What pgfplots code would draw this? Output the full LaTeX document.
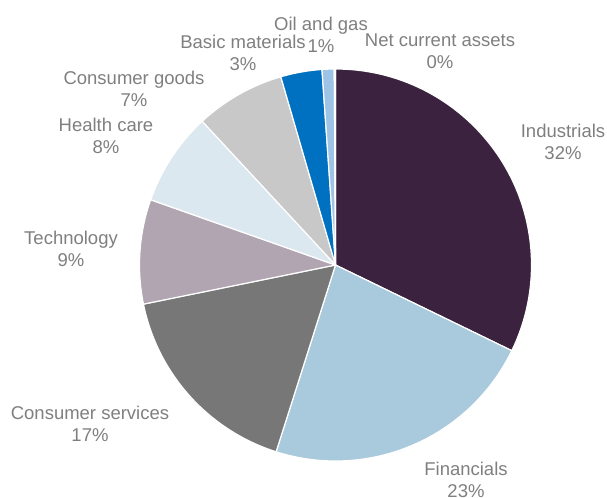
\documentclass[border=0pt]{standalone}
\usepackage{fontspec}
\setmainfont{Liberation Sans}
\usepackage{pgfplots}
\usepackage{pgfplotstable}
\pgfplotsset{compat=1.18}

\definecolor{cInd}{HTML}{3B2340}
\definecolor{cFin}{HTML}{A9CADC}
\definecolor{cCS}{HTML}{777777}
\definecolor{cTech}{HTML}{B0A5B0}
\definecolor{cHC}{HTML}{DCE8F0}
\definecolor{cCG}{HTML}{C8C8C8}
\definecolor{cBM}{HTML}{0070C0}
\definecolor{cOG}{HTML}{9DC3E6}
\definecolor{cNCA}{HTML}{DDEBF7}
\definecolor{labelgray}{HTML}{7F7F7F}

\tikzset{lbl/.style={font=\fontsize{18.5bp}{22bp}\selectfont, text=labelgray, align=center, inner sep=0pt}}

% sector weights (%), clockwise from 12 o'clock
\pgfplotstableread[col sep=comma]{
sector,value,colour
Industrials,32.2,cInd
Financials,22.7,cFin
Consumer services,16.9,cCS
Technology,8.6,cTech
Health care,7.7,cHC
Consumer goods,7.4,cCG
Basic materials,3.4,cBM
Oil and gas,1.0,cOG
Net current assets,0.1,cNCA
}\piedata

\begin{document}
\begin{tikzpicture}
\begin{axis}[
    width=607bp, height=498bp,
    scale only axis,
    xmin=0, xmax=607, ymin=0, ymax=498,
    axis line style={draw=none},
    xtick=\empty, ytick=\empty,
    clip=false,
]
\pgfmathsetmacro{\cum}{90}
\pgfplotsforeachungrouped \i in {0,...,8}{
  \pgfplotstablegetelem{\i}{value}\of{\piedata}
  \pgfmathsetmacro{\wedge}{\pgfplotsretval*3.6}
  \pgfmathsetmacro{\nxt}{\cum-\wedge}
  \pgfplotstablegetelem{\i}{colour}\of{\piedata}
  \edef\cmd{\noexpand\fill[fill=\pgfplotsretval, draw=white, line width=1.2bp, line join=round]
    (axis cs:335.5,233) -- ++(\cum:196bp)
    arc[start angle=\cum, end angle=\nxt, radius=196bp] -- cycle;}
  \cmd
  \global\let\cum\nxt
}
\node[lbl] at (axis cs:563,356) {Industrials\\32\%};
\node[lbl] at (axis cs:466,18.5) {Financials\\23\%};
\node[lbl] at (axis cs:90,74) {Consumer services\\17\%};
\node[lbl] at (axis cs:71,249) {Technology\\9\%};
\node[lbl] at (axis cs:106,362) {Health care\\8\%};
\node[lbl] at (axis cs:134,409) {Consumer goods\\7\%};
\node[lbl] at (axis cs:243,445) {Basic materials\\3\%};
\node[lbl] at (axis cs:321,463) {Oil and gas\\1\%};
\node[lbl] at (axis cs:440,447) {Net current assets\\0\%};
\end{axis}
\end{tikzpicture}
\end{document}
